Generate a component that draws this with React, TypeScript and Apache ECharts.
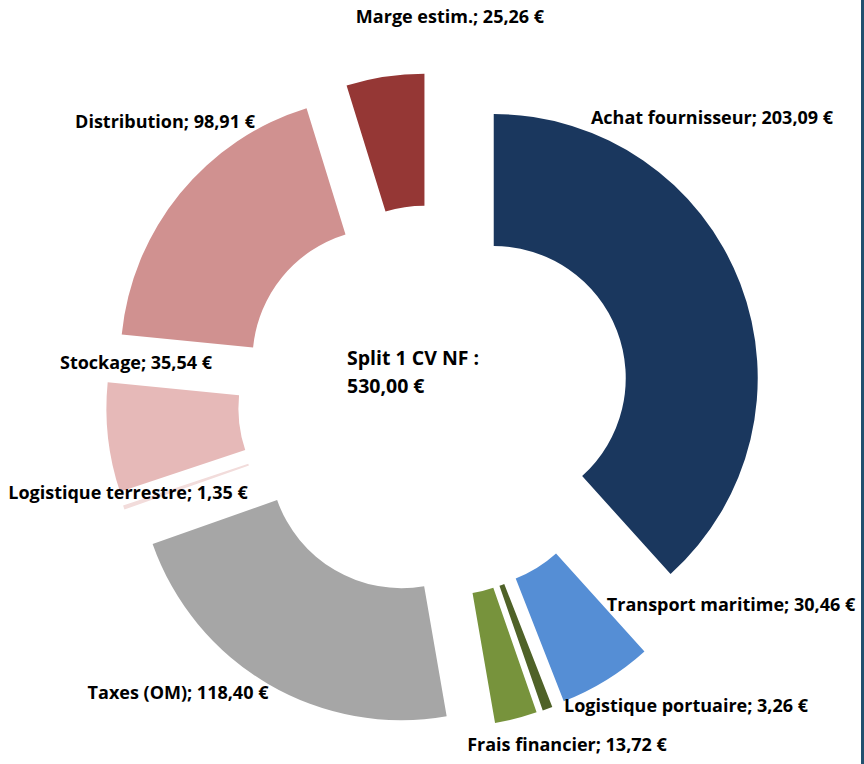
import React, { useEffect, useRef } from "react";
import * as echarts from "echarts";

const categories = [
  "Achat fournisseur",
  "Transport maritime",
  "Logistique portuaire",
  "Frais financier",
  "Taxes (OM)",
  "Logistique terrestre",
  "Stockage",
  "Distribution",
  "Marge estim.",
];
const values = [203.09, 30.46, 3.26, 13.72, 118.4, 1.35, 35.54, 98.91, 25.26];
const colors = [
  "#1A375E",
  "#558ED5",
  "#4F6228",
  "#77933C",
  "#A6A6A6",
  "#F2DCDB",
  "#E6B9B8",
  "#D09190",
  "#953735",
];
const centerTitle = ["Split 1 CV NF :", "530,00 €"];

// label centre positions (layout only)
const labelPos: [number, number][] = [
  [712, 117],
  [731, 604],
  [686, 705],
  [567, 744],
  [178, 692],
  [128, 492],
  [136, 362],
  [165, 121],
  [450, 16],
];

const fmt = (v: number) => v.toFixed(2).replace(".", ",") + " €";
const FONT = "'Open Sans', Lato, sans-serif";

export default function App() {
  const ref = useRef<HTMLDivElement>(null);
  useEffect(() => {
    if (!ref.current) return;
    const chart = echarts.init(ref.current, undefined, { renderer: "svg" });
    const labelTexts = categories.map((name, i) => ({
      type: "text",
      x: labelPos[i][0],
      y: labelPos[i][1],
      z: 100,
      style: {
        text: `${name}; ${fmt(values[i])}`,
        font: `bold 18px ${FONT}`,
        fill: "#000000",
        textAlign: "center",
        textVerticalAlign: "middle",
      },
    }));
    chart.setOption({
      animation: false,
      backgroundColor: "#ffffff",
      graphic: [
        {
          type: "rect",
          shape: { x: 861, y: 0, width: 3, height: 764 },
          style: { fill: "#22506F" },
        },
        {
          type: "text",
          x: 347,
          y: 371,
          style: {
            text: centerTitle.join("\n"),
            font: `bold 19.5px ${FONT}`,
            lineHeight: 28,
            fill: "#000000",
            textAlign: "left",
            textVerticalAlign: "middle",
          },
        },
        ...labelTexts,
      ],
      series: [
        {
          type: "pie",
          center: [434, 401],
          radius: [132, 264],
          startAngle: 90,
          clockwise: true,
          avoidLabelOverlap: false,
          selectedMode: "multiple",
          selectedOffset: 64,
          emphasis: { disabled: true },
          label: { show: false },
          labelLine: { show: false },
          data: categories.map((name, i) => ({
            name,
            value: values[i],
            selected: true,
            itemStyle: { color: colors[i] },
          })),
        },
      ],
    });
    return () => chart.dispose();
  }, []);
  return (
    <div
      ref={ref}
      style={{ position: "fixed", left: 0, top: 0, width: 864, height: 764 }}
    />
  );
}
